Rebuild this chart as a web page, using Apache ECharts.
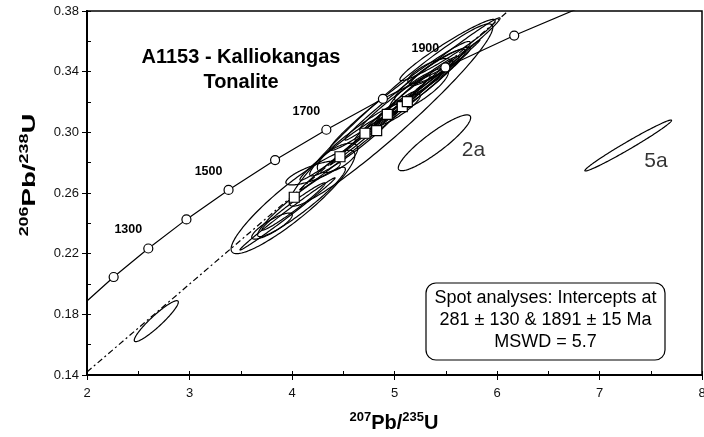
<!DOCTYPE html>
<html>
<head>
<meta charset="utf-8">
<script src="https://cdn.jsdelivr.net/npm/echarts@6/dist/echarts.min.js"></script>
<style>
  html, body { margin: 0; padding: 0; background: #fff; }
  #chart { width: 704px; height: 437px; }
</style>
</head>
<body>
<div id="chart"></div>
<script>
  // ticks
  var xTicks = [2, 3, 4, 5, 6, 7, 8]
  var xMinor = [2, 2.5, 3, 3.5, 4, 4.5, 5, 5.5, 6, 6.5, 7, 7.5, 8]
  var yTicks = [0.14, 0.18, 0.22, 0.26, 0.30, 0.34, 0.38]
  var yMinor = [0.14, 0.16, 0.18, 0.20, 0.22, 0.24, 0.26, 0.28, 0.30, 0.32, 0.34, 0.36, 0.38]

  // concordia, one point every 100 Ma
  var concAge = [1100, 1200, 1300, 1400, 1500, 1600, 1700, 1800, 1900, 2000, 2100]
  var concX = [1.955, 2.260, 2.598, 2.970, 3.381, 3.835, 4.335, 4.887, 5.496, 6.168, 6.910]
  var concY = [0.1861, 0.2046, 0.2234, 0.2426, 0.2620, 0.2817, 0.3017, 0.3221, 0.3428, 0.3638, 0.3851]
  var labelAges = [1300, 1500, 1700, 1900]

  // discordia as drawn across the plot
  var discX = [2.0, 6.11]
  var discY = [0.142, 0.38]

  // spot analyses: 207Pb/235U, err, 206Pb/238U, err, rho
  var ellX    = [4.010, 4.205, 4.093, 3.805, 3.956, 4.015, 4.444, 4.966, 5.054, 5.273, 5.346, 5.444, 5.005, 5.029, 5.239, 4.907, 4.859, 5.102, 5.517, 5.337, 4.615, 4.468, 5.150, 5.280, 2.676, 5.390, 7.280]
  var ellXErr = [0.604, 0.265, 0.428, 0.198, 0.464, 0.308, 0.197, 0.993, 0.685, 0.757, 0.345, 0.294, 0.343, 0.222, 0.288, 0.294, 0.781, 0.732, 0.465, 0.207, 0.442, 0.391, 0.420, 0.350, 0.215, 0.353, 0.423]
  var ellY    = [0.2541, 0.2732, 0.2541, 0.2382, 0.2462, 0.2511, 0.2831, 0.3114, 0.3240, 0.3352, 0.3378, 0.3434, 0.3197, 0.3147, 0.3279, 0.3108, 0.3048, 0.3197, 0.3543, 0.3404, 0.2949, 0.2890, 0.3245, 0.3310, 0.1755, 0.2931, 0.2913]
  var ellYErr = [0.0341, 0.0079, 0.0229, 0.0086, 0.0238, 0.0156, 0.0097, 0.0601, 0.0359, 0.0403, 0.0170, 0.0127, 0.0183, 0.0104, 0.0143, 0.0160, 0.0429, 0.0412, 0.0202, 0.0083, 0.0236, 0.0206, 0.0230, 0.0190, 0.0135, 0.0184, 0.0168]
  var ellRho  = [0.908, 0.783, 0.945, 0.848, 0.995, 0.978, 0.638, 0.961, 0.978, 0.992, 0.926, 0.931, 0.974, 0.893, 0.834, 0.978, 0.998, 0.9986, 0.963, 0.786, 0.949, 0.979, 0.985, 0.960, 0.93, 0.90, 0.985]

  // square markers
  var sqX = [4.022, 4.468, 4.712, 4.826, 4.930, 5.076, 5.125]
  var sqY = [0.2572, 0.2839, 0.2994, 0.3011, 0.3119, 0.3169, 0.3202]

  // spot names
  var tagText = ['2a', '5a']
  var tagX = [5.77, 7.55]
  var tagY = [0.288, 0.281]

  var font = 'Liberation Sans, Arial, sans-serif'
  var chart = echarts.init(document.getElementById('chart'))

  var ellData = ellX.map(function (v, i) {
    return [v, ellXErr[i], ellY[i], ellYErr[i], ellRho[i]]
  })

  function baseX(extra) {
    return Object.assign({
      type: 'value', min: 2, max: 8, position: 'bottom',
      axisLine: { show: true, lineStyle: { color: '#000', width: 2 } },
      splitLine: { show: false },
      axisLabel: { show: false }
    }, extra)
  }
  function baseY(extra) {
    return Object.assign({
      type: 'value', min: 0.14, max: 0.38, position: 'left',
      axisLine: { show: true, lineStyle: { color: '#000', width: 2 } },
      splitLine: { show: false },
      axisLabel: { show: false }
    }, extra)
  }

  var option = {
    animation: false,
    grid: {
      left: 87, top: 11, right: 2, bottom: 62,
      outerBoundsMode: 'none', containLabel: false,
      show: true, borderColor: '#000', borderWidth: 1.5
    },
    xAxis: [
      baseX({
        axisTick: { show: true, inside: false, length: 5, customValues: xTicks, lineStyle: { color: '#000' } },
        axisLabel: { show: true, customValues: xTicks, margin: 12, color: '#111', fontSize: 13, fontFamily: font }
      }),
      baseX({
        axisTick: { show: true, inside: true, length: 4, customValues: xMinor, lineStyle: { color: '#000' } }
      })
    ],
    yAxis: [
      baseY({
        axisTick: { show: true, inside: false, length: 5, customValues: yTicks, lineStyle: { color: '#000' } },
        axisLabel: {
          show: true, customValues: yTicks, margin: 8, color: '#111', fontSize: 13, fontFamily: font,
          formatter: function (v) { return v.toFixed(2) }
        }
      }),
      baseY({
        axisTick: { show: true, inside: true, length: 4, customValues: yMinor, lineStyle: { color: '#000' } }
      })
    ],
    series: [
      {
        type: 'custom',
        z: 2,
        data: ellData,
        encode: { x: 0, y: 2 },
        renderItem: function (params, api) {
          var cx = api.value(0), sx = api.value(1), cy = api.value(2), sy = api.value(3), r = api.value(4)
          var k = Math.sqrt(1 - r * r)
          var pts = []
          for (var i = 0; i < 180; i++) {
            var t = i / 180 * Math.PI * 2
            pts.push(api.coord([cx + sx * Math.cos(t), cy + sy * (r * Math.cos(t) + k * Math.sin(t))]))
          }
          return { type: 'polygon', shape: { points: pts }, style: { fill: 'none', stroke: '#000', lineWidth: 1.2 } }
        }
      },
      {
        type: 'line',
        z: 3,
        data: discX.map(function (v, i) { return [v, discY[i]] }),
        symbol: 'none',
        lineStyle: { color: '#000', width: 1.2, type: [6, 3, 2, 3] }
      },
      {
        type: 'scatter',
        z: 5,
        data: sqX.map(function (v, i) { return [v, sqY[i]] }),
        symbol: 'rect',
        symbolSize: 10,
        itemStyle: { color: '#fff', borderColor: '#000', borderWidth: 1.2, opacity: 1 }
      },
      {
        type: 'line',
        z: 6,
        data: concX.map(function (v, i) { return [v, concY[i]] }),
        symbol: 'circle',
        symbolSize: 9,
        showAllSymbol: true,
        lineStyle: { color: '#000', width: 1.2 },
        itemStyle: { color: '#fff', borderColor: '#000', borderWidth: 1.2 },
        label: {
          show: true, position: 'top', offset: [-20, -2],
          fontSize: 12.5, fontWeight: 'bold', fontFamily: font, color: '#000',
          formatter: function (p) {
            var a = concAge[p.dataIndex]
            return labelAges.indexOf(a) >= 0 ? String(a) : ''
          }
        }
      },
      {
        type: 'scatter',
        z: 6,
        data: tagX.map(function (v, i) { return [v, tagY[i], tagText[i]] }),
        symbolSize: 0,
        label: {
          show: true, position: 'inside', fontSize: 21, fontFamily: font, color: '#000',
          formatter: function (p) { return p.value[2] }
        }
      }
    ],
    graphic: [
      { type: 'text', x: 241, y: 57, style: { text: 'A1153 - Kalliokangas', fontSize: 20, fontWeight: 'bold', fontFamily: font, fill: '#000', align: 'center', verticalAlign: 'middle' } },
      { type: 'text', x: 241, y: 82, style: { text: 'Tonalite', fontSize: 20, fontWeight: 'bold', fontFamily: font, fill: '#000', align: 'center', verticalAlign: 'middle' } },
      {
        type: 'text', x: 394, y: 422,
        style: {
          text: '{s|207}{m|Pb/}{s|235}{m|U}', align: 'center', verticalAlign: 'middle',
          rich: {
            s: { fontSize: 13, fontWeight: 'bold', fontFamily: font, verticalAlign: 'top', lineHeight: 22 },
            m: { fontSize: 20, fontWeight: 'bold', fontFamily: font, verticalAlign: 'bottom', lineHeight: 22 }
          }
        }
      },
      {
        type: 'text', x: 29, y: 175, rotation: Math.PI / 2, scaleX: 1.38, scaleY: 0.95,
        style: {
          text: '{s|206}{m|Pb/}{s|238}{m|U}', align: 'center', verticalAlign: 'middle',
          rich: {
            s: { fontSize: 13, fontWeight: 'bold', fontFamily: font, verticalAlign: 'top', lineHeight: 22 },
            m: { fontSize: 20, fontWeight: 'bold', fontFamily: font, verticalAlign: 'bottom', lineHeight: 22 }
          }
        }
      },
      { type: 'rect', shape: { x: 426, y: 283, width: 239, height: 77, r: 10 }, style: { fill: '#fff', stroke: '#000', lineWidth: 1.2 } },
      { type: 'text', x: 545.5, y: 298, style: { text: 'Spot analyses: Intercepts at', fontSize: 18, fontFamily: font, fill: '#000', align: 'center', verticalAlign: 'middle' } },
      { type: 'text', x: 545.5, y: 320, style: { text: '281 ± 130 & 1891 ± 15 Ma', fontSize: 18, fontFamily: font, fill: '#000', align: 'center', verticalAlign: 'middle' } },
      { type: 'text', x: 545.5, y: 342, style: { text: 'MSWD = 5.7', fontSize: 18, fontFamily: font, fill: '#000', align: 'center', verticalAlign: 'middle' } }
    ]
  }

  chart.setOption(option)
</script>
</body>
</html>
